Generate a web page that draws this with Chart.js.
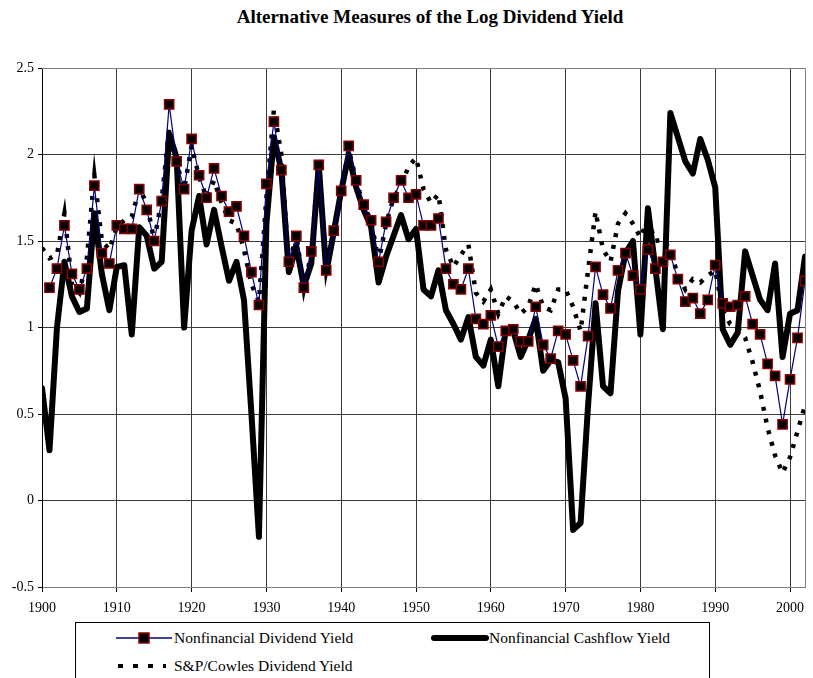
<!DOCTYPE html>
<html lang="en">
  <head>
    <meta charset="UTF-8" />
    <title>Alternative Measures of the Log Dividend Yield</title>
    <script src="https://cdn.jsdelivr.net/npm/chart.js"></script>
    <style>
      body {
        margin: 0;
        background: #fff;
        font-family: "Liberation Serif", "Times New Roman", serif;
      }
      .wrap {
        position: relative;
        width: 813px;
        height: 678px;
        overflow: hidden;
      }
      .title {
        position: absolute;
        top: 6px;
        left: 0;
        width: 860px;
        text-align: center;
        font-weight: bold;
        font-size: 19px;
      }
      canvas {
        position: absolute;
        left: 0;
        top: 0;
      }
      .legend {
        position: absolute;
        left: 75px;
        top: 622px;
        width: 635px;
        height: 80px;
        border: 1px solid #000;
        box-sizing: border-box;
        font-size: 15.5px;
      }
      .item {
        position: absolute;
        white-space: nowrap;
        line-height: 16px;
      }
      .item svg {
        position: absolute;
      }
    </style>
  </head>
  <body>
    <div class="wrap">
      <div class="title">Alternative Measures of the Log Dividend Yield</div>
      <canvas id="myChart" width="813" height="620"></canvas>
      <div class="legend">
        <div class="item" style="left: 40px; top: 7px;">
          <svg width="56" height="16" style="left: 0; top: 0;">
            <line x1="0" y1="8" x2="56" y2="8" stroke="#000080" stroke-width="1.5" />
            <rect x="23" y="3" width="10" height="10" fill="#000" stroke="#8b0000" stroke-width="1.5" />
          </svg>
          <span style="position: absolute; left: 58px;">Nonfinancial Dividend Yield</span>
        </div>
        <div class="item" style="left: 355px; top: 7px;">
          <svg width="58" height="16" style="left: 0; top: 0;">
            <line x1="3" y1="8" x2="55" y2="8" stroke="#000" stroke-width="6" stroke-linecap="round" />
          </svg>
          <span style="position: absolute; left: 58px;">Nonfinancial Cashflow Yield</span>
        </div>
        <div class="item" style="left: 40px; top: 35px;">
          <svg width="56" height="16" style="left: 0; top: 0;">
            <line x1="2" y1="8" x2="50" y2="8" stroke="#000" stroke-width="4" stroke-dasharray="5 10" />
          </svg>
          <span style="position: absolute; left: 58px;">S&amp;P/Cowles Dividend Yield</span>
        </div>
      </div>
    </div>

    <script>
      // years on the x axis
      var years = [
        1900, 1901, 1902, 1903, 1904, 1905, 1906, 1907, 1908, 1909,
        1910, 1911, 1912, 1913, 1914, 1915, 1916, 1917, 1918, 1919,
        1920, 1921, 1922, 1923, 1924, 1925, 1926, 1927, 1928, 1929,
        1930, 1931, 1932, 1933, 1934, 1935, 1936, 1937, 1938, 1939,
        1940, 1941, 1942, 1943, 1944, 1945, 1946, 1947, 1948, 1949,
        1950, 1951, 1952, 1953, 1954, 1955, 1956, 1957, 1958, 1959,
        1960, 1961, 1962, 1963, 1964, 1965, 1966, 1967, 1968, 1969,
        1970, 1971, 1972, 1973, 1974, 1975, 1976, 1977, 1978, 1979,
        1980, 1981, 1982, 1983, 1984, 1985, 1986, 1987, 1988, 1989,
        1990, 1991, 1992, 1993, 1994, 1995, 1996, 1997, 1998, 1999,
        2000, 2001, 2002
      ];

      // labelled years on the x axis
      var xTickYears = [1900, 1910, 1920, 1930, 1940, 1950, 1960, 1970, 1980, 1990, 2000];

      // Nonfinancial Dividend Yield (starts 1901)
      var dividendYield = [
        null, 1.23, 1.34, 1.59, 1.31, 1.22, 1.34, 1.82, 1.43, 1.37,
        1.59, 1.57, 1.57, 1.80, 1.68, 1.50, 1.73, 2.29, 1.96, 1.80,
        2.09, 1.88, 1.75, 1.92, 1.76, 1.67, 1.70, 1.53, 1.32, 1.13,
        1.83, 2.19, 1.91, 1.38, 1.53, 1.23, 1.44, 1.94, 1.33, 1.56,
        1.79, 2.05, 1.85, 1.71, 1.62, 1.38, 1.61, 1.75, 1.85, 1.75,
        1.77, 1.59, 1.59, 1.63, 1.34, 1.25, 1.22, 1.34, 1.05, 1.02,
        1.07, 0.89, 0.98, 0.99, 0.92, 0.92, 1.12, 0.90, 0.82, 0.98,
        0.96, 0.81, 0.66, 0.95, 1.35, 1.19, 1.11, 1.33, 1.43, 1.30,
        1.22, 1.45, 1.34, 1.38, 1.42, 1.28, 1.15, 1.17, 1.08, 1.16,
        1.36, 1.14, 1.12, 1.13, 1.18, 1.02, 0.96, 0.79, 0.72, 0.44,
        0.70, 0.94, 1.27
      ];

      // Nonfinancial Cashflow Yield
      var cashflowYield = [
        0.65, 0.29, 1.00, 1.38, 1.18, 1.09, 1.11, 1.66, 1.31, 1.10,
        1.35, 1.36, 0.96, 1.58, 1.53, 1.34, 1.38, 2.12, 1.98, 1.00,
        1.56, 1.76, 1.48, 1.68, 1.47, 1.27, 1.38, 1.16, 0.50, -0.21,
        1.60, 2.10, 1.91, 1.32, 1.47, 1.24, 1.37, 1.94, 1.32, 1.55,
        1.79, 2.00, 1.81, 1.68, 1.58, 1.26, 1.41, 1.53, 1.65, 1.51,
        1.57, 1.22, 1.18, 1.33, 1.10, 1.02, 0.93, 1.06, 0.83, 0.78,
        0.93, 0.66, 0.99, 0.98, 0.83, 0.93, 1.05, 0.75, 0.81, 0.80,
        0.59, -0.17, -0.13, 0.55, 1.14, 0.66, 0.62, 1.21, 1.43, 1.50,
        0.96, 1.69, 1.34, 0.99, 2.24, 2.10, 1.96, 1.89, 2.09, 1.97,
        1.81, 0.99, 0.90, 0.97, 1.44, 1.30, 1.16, 1.10, 1.37, 0.83,
        1.08, 1.10, 1.41
      ];

      // S&P/Cowles Dividend Yield
      var cowlesYield = [
        1.46, 1.40, 1.42, 1.66, 1.25, 1.20, 1.40, 1.88, 1.50, 1.45,
        1.58, 1.62, 1.64, 1.80, 1.72, 1.50, 1.74, 2.15, 1.95, 1.80,
        2.05, 1.87, 1.75, 1.85, 1.72, 1.62, 1.60, 1.45, 1.25, 1.15,
        1.75, 2.26, 2.00, 1.35, 1.54, 1.22, 1.43, 1.97, 1.33, 1.55,
        1.78, 2.03, 1.85, 1.70, 1.62, 1.38, 1.60, 1.75, 1.82, 1.93,
        1.98, 1.80, 1.72, 1.77, 1.45, 1.35, 1.42, 1.48, 1.20, 1.15,
        1.22, 1.08, 1.18, 1.15, 1.08, 1.12, 1.25, 1.12, 1.10, 1.22,
        1.22, 1.12, 0.98, 1.33, 1.67, 1.45, 1.38, 1.60, 1.66, 1.60,
        1.52, 1.62, 1.50, 1.51, 1.45, 1.30, 1.22, 1.28, 1.26, 1.30,
        1.33, 1.10, 1.02, 1.00, 0.94, 0.80, 0.63, 0.42, 0.26, 0.16,
        0.25, 0.40, 0.55
      ];

      function toPoints(values) {
        var pts = [];
        for (var i = 0; i < years.length; i++) {
          pts.push({ x: years[i], y: values[i] });
        }
        return pts;
      }

      // draws the grey frame on top / right of the plot area
      var framePlugin = {
        id: "frame",
        afterDraw: function(chart) {
          var a = chart.chartArea;
          var ctx = chart.ctx;
          ctx.save();
          ctx.strokeStyle = "#808080";
          ctx.lineWidth = 1;
          ctx.beginPath();
          ctx.moveTo(a.left, a.top + 0.5);
          ctx.lineTo(a.right + 0.5, a.top + 0.5);
          ctx.lineTo(a.right + 0.5, a.bottom);
          ctx.stroke();
          ctx.restore();
        }
      };

      var font = { family: "'Liberation Serif', 'Times New Roman', serif", size: 14 };

      var ctx = document.getElementById("myChart").getContext("2d");
      new Chart(ctx, {
        type: "line",
        data: {
          datasets: [
            {
              label: "Nonfinancial Dividend Yield",
              data: toPoints(dividendYield),
              borderColor: "#000080",
              borderWidth: 1.2,
              pointStyle: "rect",
              pointRadius: 6.5,
              pointBackgroundColor: "#000",
              pointBorderColor: "#8b0000",
              pointBorderWidth: 1.5,
              tension: 0
            },
            {
              label: "Nonfinancial Cashflow Yield",
              data: toPoints(cashflowYield),
              borderColor: "#000",
              borderWidth: 6,
              pointRadius: 0,
              borderJoinStyle: "round",
              borderCapStyle: "round",
              tension: 0
            },
            {
              label: "S&P/Cowles Dividend Yield",
              data: toPoints(cowlesYield),
              borderColor: "#000",
              borderWidth: 4.5,
              borderDash: [4, 8],
              pointRadius: 0,
              tension: 0
            }
          ]
        },
        options: {
          responsive: false,
          animation: false,
          layout: {
            padding: { top: 68, right: 6, bottom: 3, left: 0 }
          },
          plugins: {
            legend: { display: false },
            tooltip: { enabled: false }
          },
          scales: {
            x: {
              type: "linear",
              min: 1900,
              max: 2002,
              ticks: {
                color: "#000",
                font: font,
                padding: 8,
                maxRotation: 0,
                autoSkip: false,
                callback: function(v) { return String(v); }
              },
              afterBuildTicks: function(scale) {
                scale.ticks = xTickYears.map(function(v) { return { value: v }; });
              },
              afterFit: function(scale) { scale.height = 30; },
              grid: {
                color: "#3a3a3a",
                tickColor: "#000",
                tickLength: 5
              },
              border: { color: "#808080" }
            },
            y: {
              min: -0.5,
              max: 2.5,
              ticks: {
                stepSize: 0.5,
                color: "#000",
                font: font,
                padding: 4,
                callback: function(v) { return String(Math.round(v * 10) / 10); }
              },
              afterFit: function(scale) { scale.width = 42; },
              grid: {
                color: "#3a3a3a",
                tickColor: "#000",
                tickLength: 4
              },
              border: { color: "#000" }
            }
          }
        },
        plugins: [framePlugin]
      });
    </script>
  </body>
</html>
